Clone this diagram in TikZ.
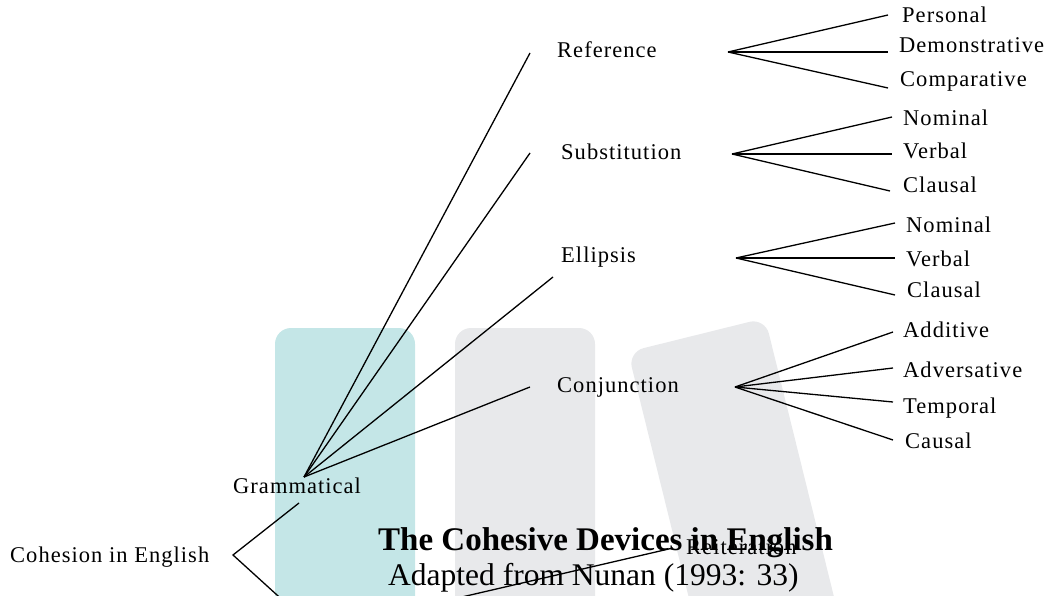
\documentclass[tikz,border=0pt]{standalone}
\usepackage{fontspec}
\setmainfont{Liberation Serif}
\newfontfamily\labelfont[LetterSpace=4.6]{Liberation Serif}
\definecolor{wmteal}{RGB}{196,230,231}
\definecolor{wmgray}{RGB}{232,233,235}
\begin{document}
\begin{tikzpicture}[x=1pt,y=-1pt,
  lbl/.style={inner sep=0pt, anchor=base west, font=\labelfont\fontsize{22.5}{26}\selectfont},
  link/.style={line width=1.3pt, black},
  wm/.style={rounded corners=16pt}]
\useasboundingbox (0,0) rectangle (1047,596);
\clip (0,0) rectangle (1047,596);
% watermark shapes
\fill[wmteal, wm] (345,720) -- (275,720) -- (275,328) -- (415,328) -- (415,720) -- cycle;
\fill[wmgray, wm] (525,720) -- (455,720) -- (455,328) -- (595,328) -- (595,720) -- cycle;
\fill[wmgray, wm] (792,723) -- (724,740) -- (628,352) -- (765,318) -- (861,706) -- cycle;

% labels
\node[lbl] (coh) at (10,562) {Cohesion in English};
\node[lbl] (gram) at (233,493) {Grammatical};
\node[lbl] (ref) at (557,58) {Reference};
\node[lbl] (sub) at (561,160) {Substitution};
\node[lbl] (ell) at (561,262) {Ellipsis};
\node[lbl] (con) at (557,392) {Conjunction};
\node[lbl] (pers) at (902,23) {Personal};
\node[lbl] (demo) at (899,53) {Demonstrative};
\node[lbl] (comp) at (900,87) {Comparative};
\node[lbl] (snom) at (903,126) {Nominal};
\node[lbl] (sverb) at (903,159) {Verbal};
\node[lbl] (sclau) at (903,193) {Clausal};
\node[lbl] (enom) at (906,233) {Nominal};
\node[lbl] (everb) at (906,266) {Verbal};
\node[lbl] (eclau) at (907,297) {Clausal};
\node[lbl] (add) at (903,337) {Additive};
\node[lbl] (adv) at (903,377) {Adversative};
\node[lbl] (temp) at (903,413) {Temporal};
\node[lbl] (caus) at (905,448) {Causal};
\node[lbl] (reit) at (686,554) {Reiteration};

% connector end points
\coordinate (cohfork) at (233,555);
\coordinate (gramlow) at (299,503);
\coordinate (lexend) at (365,675);
\coordinate (gramapex) at (304,477);
\coordinate (refin) at (530,53);
\coordinate (subin) at (530,153);
\coordinate (ellin) at (553,277);
\coordinate (conin) at (530,387);
\coordinate (reffork) at (728,52);
\coordinate (persin) at (888,15);
\coordinate (demoin) at (888,52);
\coordinate (compin) at (888,88);
\coordinate (subfork) at (732,154);
\coordinate (snomin) at (892,117);
\coordinate (sverbin) at (892,154);
\coordinate (sclauin) at (890,191);
\coordinate (ellfork) at (736,258);
\coordinate (enomin) at (895,223);
\coordinate (everbin) at (895,258);
\coordinate (eclauin) at (895,295);
\coordinate (confork) at (735,387);
\coordinate (addin) at (893,332);
\coordinate (advin) at (893,368);
\coordinate (tempin) at (893,402);
\coordinate (causin) at (893,440);
\coordinate (lexfork) at (380,616);
\coordinate (reitin) at (673,548);

% connectors
\draw[link] (gramlow) -- (cohfork) -- (lexend);
\foreach \t in {refin,subin,ellin,conin} \draw[link] (gramapex) -- (\t);
\foreach \t in {persin,demoin,compin} \draw[link] (reffork) -- (\t);
\foreach \t in {snomin,sverbin,sclauin} \draw[link] (subfork) -- (\t);
\foreach \t in {enomin,everbin,eclauin} \draw[link] (ellfork) -- (\t);
\foreach \t in {addin,advin,tempin,causin} \draw[link] (confork) -- (\t);
\draw[link] (lexfork) -- (reitin);

% caption
\node[inner sep=0pt, anchor=base west, font=\bfseries\fontsize{33}{38}\selectfont] (title) at (378,550) {The Cohesive Devices in English};
\node[inner sep=0pt, anchor=base west, font=\fontsize{31.5}{36}\selectfont] (source) at (388,585) {Adapted from Nunan (1993: 33)};
\end{tikzpicture}
\end{document}
